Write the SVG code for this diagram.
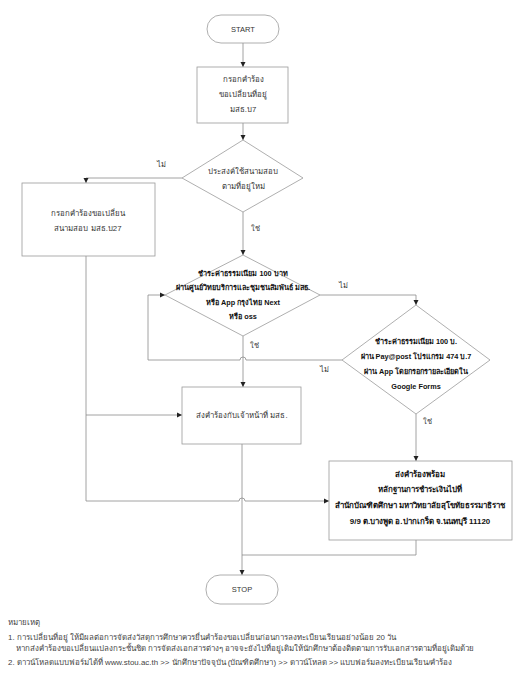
<svg xmlns="http://www.w3.org/2000/svg" width="521" height="687" viewBox="0 0 521 687">
<style>
.shape{fill:#fff;stroke:#9a9a9a;stroke-width:0.8}
.ln{fill:none;stroke:#8c8c8c;stroke-width:0.8}
.t{font-family:"Liberation Sans","Noto Sans",sans-serif;font-size:7.8px;fill:#333;text-anchor:middle}
.b{font-weight:bold;fill:#111;font-size:7.3px}
.big{font-size:7.9px}
.lbl{font-family:"Liberation Sans","Noto Sans",sans-serif;font-size:7.5px;fill:#333}
.note{font-family:"Liberation Sans","Noto Sans",sans-serif;font-size:7.9px;fill:#444}
</style>
<defs>
<marker id="ah" markerWidth="6" markerHeight="6" refX="5" refY="3" orient="auto" markerUnits="userSpaceOnUse">
<path d="M0,0.5 L5,3 L0,5.5 Z" fill="#222"/>
</marker>
</defs>
<rect width="521" height="687" fill="#fff"/>
<g id="connectors">
<path class="ln" d="M243,43 V67" marker-end="url(#ah)"/>
<path class="ln" d="M243,123 V140" marker-end="url(#ah)"/>
<path class="ln" d="M182,178 H86 V183" marker-end="url(#ah)"/>
<path class="ln" d="M243,212 V255" marker-end="url(#ah)"/>
<path class="ln" d="M320,295 H416 V305" marker-end="url(#ah)"/>
<path class="ln" d="M342,360 H246 A3,3 0 0 0 240,360 H148 V295 H165" marker-end="url(#ah)"/>
<path class="ln" d="M243,336 V387" marker-end="url(#ah)"/>
<path class="ln" d="M86,256 V501 H239 A3,3 0 0 1 245,501 H329" marker-end="url(#ah)"/>
<path class="ln" d="M86,415 H182" marker-end="url(#ah)"/>
<path class="ln" d="M242,444 V575" marker-end="url(#ah)"/>
<path class="ln" d="M416,414 V461" marker-end="url(#ah)"/>
<path class="ln" d="M416,540 V555 H242"/>
<text class="lbl" x="157" y="167">ไม่</text>
<text class="lbl" x="251" y="231">ใช่</text>
<text class="lbl" x="339" y="288">ไม่</text>
<text class="lbl" x="250" y="348">ใช่</text>
<text class="lbl" x="320" y="372">ไม่</text>
<text class="lbl" x="423" y="424">ใช่</text>
</g>
<g id="start">
<rect class="shape" x="207" y="15" width="72" height="28" rx="14"/>
<text class="t" x="243" y="32" style="font-size:7.5px">START</text>
</g>
<g id="fill-form">
<rect class="shape" x="197" y="67" width="91" height="56"/>
<text class="t" x="243" y="82">กรอกคำร้อง</text>
<text class="t" x="243" y="97">ขอเปลี่ยนที่อยู่</text>
<text class="t" x="243" y="112">มสธ.บ7</text>
</g>
<g id="decision-exam">
<polygon class="shape" points="243,140 303,178 243,212 182,178"/>
<text class="t" x="243" y="174">ประสงค์ใช้สนามสอบ</text>
<text class="t" x="243" y="189">ตามที่อยู่ใหม่</text>
</g>
<g id="fill-exam-form">
<rect class="shape" x="22" y="183" width="133" height="73"/>
<text class="t" x="88" y="216">กรอกคำร้องขอเปลี่ยน</text>
<text class="t" x="88" y="231">สนามสอบ มสธ.บ27</text>
</g>
<g id="decision-pay1">
<polygon class="shape" points="243,255 320,295 243,336 165,295"/>
<text class="t b" x="243" y="276">ชำระค่าธรรมเนียม 100 บาท</text>
<text class="t b" x="243" y="290">ผ่านศูนย์วิทยบริการและชุมชนสัมพันธ์ มสธ.</text>
<text class="t b" x="243" y="305">หรือ App กรุงไทย Next</text>
<text class="t b" x="243" y="319">หรือ oss</text>
</g>
<g id="decision-pay2">
<polygon class="shape" points="416,305 490,360 416,414 342,360"/>
<text class="t b" x="416" y="344">ชำระค่าธรรมเนียม 100 บ.</text>
<text class="t b" x="416" y="359">ผ่าน Pay@post โปรแกรม 474 บ.7</text>
<text class="t b" x="416" y="374">ผ่าน App โดยกรอกรายละเอียดใน</text>
<text class="t b" x="416" y="389">Google Forms</text>
</g>
<g id="submit-staff">
<rect class="shape" x="182" y="387" width="119" height="57"/>
<text class="t" x="242" y="418">ส่งคำร้องกับเจ้าหน้าที่ มสธ.</text>
</g>
<g id="submit-mail">
<rect class="shape" x="329" y="461" width="183" height="79"/>
<text class="t b big" x="420" y="477">ส่งคำร้องพร้อม</text>
<text class="t b big" x="420" y="492">หลักฐานการชำระเงินไปที่</text>
<text class="t b big" x="420" y="508">สำนักบัณฑิตศึกษา มหาวิทยาลัยสุโขทัยธรรมาธิราช</text>
<text class="t b big" x="420" y="524">9/9 ต.บางพูด อ.ปากเกร็ด จ.นนทบุรี 11120</text>
</g>
<g id="stop">
<rect class="shape" x="206" y="575" width="72" height="29" rx="14"/>
<text class="t" x="242" y="592" style="font-size:7.5px">STOP</text>
</g>
<g id="notes">
<text class="note" x="8" y="625">หมายเหตุ</text>
<text class="note" x="8" y="640">1. การเปลี่ยนที่อยู่ ให้มีผลต่อการจัดส่งวัสดุการศึกษาควรยื่นคำร้องขอเปลี่ยนก่อนการลงทะเบียนเรียนอย่างน้อย 20 วัน</text>
<text class="note" x="16" y="651">หากส่งคำร้องขอเปลี่ยนแปลงกระชั้นชิด การจัดส่งเอกสารต่างๆ อาจจะยังไปที่อยู่เดิมให้นักศึกษาต้องติดตามการรับเอกสารตามที่อยู่เดิมด้วย</text>
<text class="note" x="8" y="665">2. ดาวน์โหลดแบบฟอร์มได้ที่ www.stou.ac.th &gt;&gt; นักศึกษาปัจจุบัน (บัณฑิตศึกษา) &gt;&gt; ดาวน์โหลด &gt;&gt; แบบฟอร์มลงทะเบียนเรียน/คำร้อง</text>
</g>
</svg>
